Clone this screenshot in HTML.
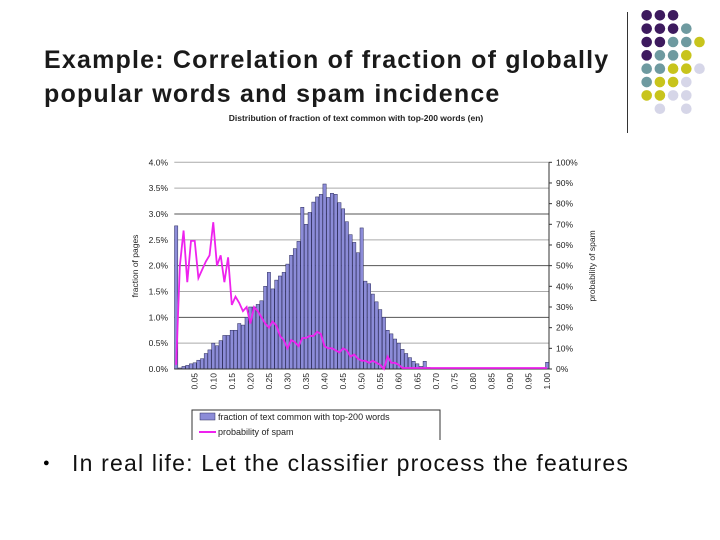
<!DOCTYPE html>
<html><head><meta charset="utf-8"><style>
body{margin:0;width:720px;height:540px;background:#fff;position:relative;overflow:hidden;font-family:"Liberation Sans",sans-serif}
.t{position:absolute;left:44px;font-weight:bold;font-size:25px;letter-spacing:1.2px;color:#1a1a1a;white-space:nowrap}
</style></head><body>
<div class="t" style="top:43px;line-height:34px">Example: Correlation of fraction of globally<br>popular words and spam incidence</div>
<div style="position:absolute;left:627px;top:12px;width:1px;height:121px;background:#333"></div>
<svg id="dots" width="720" height="140" style="position:absolute;left:0;top:0"></svg>
<svg id="chart" width="720" height="540" style="position:absolute;left:0;top:0;font-family:'Liberation Sans',sans-serif"></svg>
<div style="position:absolute;left:43px;top:457px;font-size:11px">●</div>
<div style="position:absolute;left:72px;top:450px;font-size:23px;letter-spacing:1.2px;color:#111;white-space:nowrap">In real life: Let the classifier process the features</div>
<script>
const barValues=[2.77,0.02,0.05,0.07,0.1,0.12,0.17,0.2,0.3,0.37,0.5,0.45,0.55,0.65,0.65,0.75,0.75,0.88,0.85,1.0,1.2,1.2,1.25,1.32,1.6,1.87,1.55,1.72,1.8,1.87,2.03,2.2,2.33,2.47,3.13,2.8,3.03,3.23,3.33,3.38,3.58,3.32,3.4,3.38,3.22,3.1,2.85,2.6,2.45,2.25,2.73,1.7,1.65,1.45,1.3,1.15,1.0,0.75,0.68,0.58,0.5,0.38,0.3,0.22,0.15,0.1,0.05,0.15,0.03,0.02,0.02,0.01,0.01,0.01,0.02,0.01,0.01,0.01,0.01,0.01,0.01,0.01,0.01,0.01,0.01,0.01,0.01,0.01,0.01,0.01,0.01,0.01,0.01,0.01,0.01,0.01,0.01,0.01,0.01,0.01,0.13];
const spamValues=[2,50,67,42,62,62,44,48,52,55,71,50,55,42,54,31,35,32,28,30,22,30,28,25,22,20,23,21,16,14,10,14,13,11,15,15,16,16,18,17,11,10,10,9,8,10,9,6,7,5,4,4,3,4,3,2,0,6,3,3,2,0.5,0.5,0.5,0.5,0.5,0.5,0.5,0.5,0.5,0.5,0.5,0.5,0.5,0.5,0.5,0.5,0.5,0.5,0.5,0.5,0.5,0.5,0.5,0.5,0.5,0.5,0.5,0.5,0.5,0.5,0.5,0.5,0.5,0.5,0.5,0.5,0.5,0.5,0.5,0.5];
const leftTicks=["0.0%","0.5%","1.0%","1.5%","2.0%","2.5%","3.0%","3.5%","4.0%"];
const rightTicks=["0%","10%","20%","30%","40%","50%","60%","70%","80%","90%","100%"];
const xLabels=["0.05","0.10","0.15","0.20","0.25","0.30","0.35","0.40","0.45","0.50","0.55","0.60","0.65","0.70","0.75","0.80","0.85","0.90","0.95","1.00"];
const dotRows=["PPP","PPPT","PPTTY","PTTY","TTYYL","TYYL","YYLL"," L L"];
const NS="http://www.w3.org/2000/svg";
function mk(p,tag,at,txt){const e=document.createElementNS(NS,tag);for(const k in at)e.setAttribute(k,at[k]);if(txt!=null)e.textContent=txt;p.appendChild(e);return e;}
const dc={P:"#3d1a5e",T:"#6e9aa0",Y:"#c8c41c",L:"#d6d6e8"};
const dots=document.getElementById('dots');
dotRows.forEach((r,ri)=>{[...r].forEach((c,ci)=>{if(c===' ')return;const d=mk(dots,'circle',{cx:646.7+ci*13.2,cy:15.3+ri*13.35,r:5.3,fill:dc[c]});

});});
const s=document.getElementById('chart');
const X0=174.3,X1=549,Y0=369,Y1=162.3,n=barValues.length,w=(X1-X0)/n;
const yL=v=>Y0-(v/4)*(Y0-Y1), yR=v=>Y0-(v/100)*(Y0-Y1), xC=i=>X0+(i+0.5)*w;
let t=mk(s,'text',{x:356,y:121,'font-size':8.5,'font-weight':'bold','text-anchor':'middle',fill:'#222'},'Distribution of fraction of text common with top-200 words (en)');

leftTicks.forEach((l,i)=>{const y=yL(i*0.5);
const g=mk(s,'line',{x1:X0,x2:X1,y1:y,y2:y,stroke:(i%2===0&&i>0&&i<8)?'#555':'#aaa','stroke-width':1});

const tt=mk(s,'text',{x:168,y:y+3,'font-size':8.5,'text-anchor':'end',fill:'#222'},l);
});
rightTicks.forEach((l,i)=>{const y=yR(i*10);
mk(s,'line',{x1:X1,x2:X1+3,y1:y,y2:y,stroke:'#333'});
const tt=mk(s,'text',{x:556,y:y+3,'font-size':8.5,fill:'#222'},l);
});
mk(s,'line',{x1:X1,x2:X1,y1:Y1,y2:Y0,stroke:'#333'});
barValues.forEach((v,i)=>{const y=yL(v);const b=mk(s,'rect',{x:X0+i*w+0.2,y:y,width:w-0.4,height:Y0-y,fill:'#8c8cd8',stroke:'#2a2a5a','stroke-width':0.5});
});
mk(s,'line',{x1:X0,x2:X1,y1:Y0,y2:Y0,stroke:'#333'});
const pl=mk(s,'polyline',{points:spamValues.map((v,i)=>xC(i)+','+yR(v)).join(' '),fill:'none',stroke:'#ee22ee','stroke-width':1.8});

xLabels.forEach((l,j)=>{const x=xC((j+1)*5);
const tt=mk(s,'text',{x:0,y:0,'font-size':8.5,'text-anchor':'end',fill:'#222',transform:`translate(${x+3},373) rotate(-90)`},l);
});
t=mk(s,'text',{x:0,y:0,'font-size':8.5,'text-anchor':'middle',fill:'#222',transform:'translate(138,266) rotate(-90)'},'fraction of pages');

t=mk(s,'text',{x:0,y:0,'font-size':8.5,'text-anchor':'middle',fill:'#222',transform:'translate(595,266) rotate(-90)'},'probability of spam');

const lg=mk(s,'rect',{x:192,y:410,width:248,height:35,fill:'#fff',stroke:'#333'});

mk(s,'rect',{x:200,y:413,width:15,height:7,fill:'#8c8cd8',stroke:'#2a2a5a','stroke-width':0.5});
t=mk(s,'text',{x:218,y:420,'font-size':9,fill:'#222'},'fraction of text common with top-200 words');

mk(s,'line',{x1:199,x2:216,y1:432,y2:432,stroke:'#ee22ee','stroke-width':2});
t=mk(s,'text',{x:218,y:435,'font-size':9,fill:'#222'},'probability of spam');

mk(s,'rect',{x:125,y:440,width:480,height:10,fill:'#fff'});
</script>
</body></html>
